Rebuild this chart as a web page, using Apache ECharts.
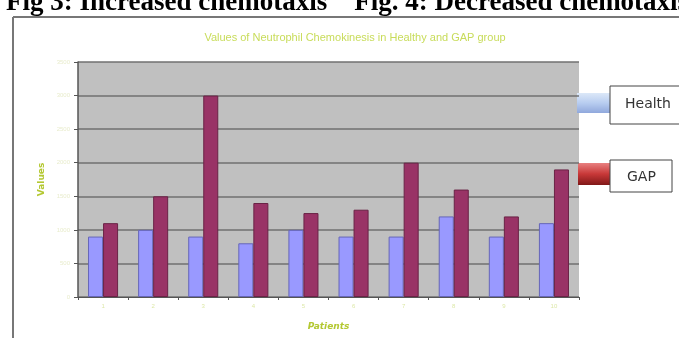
<!DOCTYPE html>
<html>
<head>
<meta charset="utf-8">
<script src="https://cdn.jsdelivr.net/npm/echarts@6/dist/echarts.min.js"></script>
<style>
  html, body { margin: 0; padding: 0; background: #fff; }
  #chart { width: 679px; height: 338px; }
</style>
</head>
<body>
<div id="chart"></div>
<script>
// patients 1..10
const patients = ['1', '2', '3', '4', '5', '6', '7', '8', '9', '10'];
const healthy = [900, 1000, 900, 800, 1000, 900, 900, 1200, 900, 1100];
const gap = [1100, 1500, 3000, 1400, 1250, 1300, 2000, 1600, 1200, 1900];
const yTicks = [0, 500, 1000, 1500, 2000, 2500, 3000, 3500];

const chart = echarts.init(document.getElementById('chart'));

const option = {
  animation: false,
  title: {
    text: 'Values of Neutrophil Chemokinesis in Healthy and GAP group',
    left: 350,
    top: 27,
    textAlign: 'center',
    textStyle: { color: '#c8dc5a', fontSize: 11, fontWeight: 'normal', fontFamily: 'Liberation Sans' }
  },
  grid: { left: 78, right: 100, top: 62, bottom: 41, backgroundColor: '#c0c0c0', show: true, borderWidth: 0 },
  xAxis: {
    type: 'category',
    data: patients,
    name: 'Patients',
    nameLocation: 'middle',
    nameGap: 25,
    nameTextStyle: { color: '#b4c832', fontSize: 9, fontWeight: 'bold', fontStyle: 'italic', fontFamily: 'DejaVu Sans' },
    axisLine: { lineStyle: { color: '#555', width: 1 } },
    axisTick: { show: true, length: 3, lineStyle: { color: '#555' } },
    axisLabel: { color: '#dde8a8', fontSize: 6, margin: 6 }
  },
  yAxis: {
    type: 'value',
    min: 0,
    max: 3500,
    interval: 500,
    name: 'Values',
    nameLocation: 'middle',
    nameGap: 30,
    nameRotate: 90,
    nameTextStyle: { color: '#b4c832', fontSize: 9, fontWeight: 'bold', fontFamily: 'DejaVu Sans' },
    axisLine: { show: true, lineStyle: { color: '#555', width: 1.5 } },
    axisTick: { show: true, length: 4, lineStyle: { color: '#555' } },
    axisLabel: {
      color: '#e8eccc', fontSize: 6, margin: 8,
      formatter: v => (yTicks.indexOf(v) >= 0 ? String(v) : '')
    },
    splitLine: { lineStyle: { color: '#707070', width: 1.5 } }
  },
  series: [
    {
      name: 'Health',
      type: 'bar',
      data: healthy,
      barGap: '0%',
      barCategoryGap: '40%',
      itemStyle: { color: '#9999ff', borderColor: '#6666b8', borderWidth: 1 }
    },
    {
      name: 'GAP',
      type: 'bar',
      data: gap,
      itemStyle: { color: '#993366', borderColor: '#6a2346', borderWidth: 1 }
    }
  ],
  graphic: [
    // page heading, cut by the top edge
    {
      type: 'text', left: 6, top: -10,
      style: { text: 'Fig 3: Increased chemotaxis    Fig. 4: Decreased chemotaxis', font: 'bold 27px "Liberation Serif"', fill: '#000' }
    },
    // outer frame
    { type: 'line', shape: { x1: 13, y1: 17, x2: 690, y2: 17 }, style: { stroke: '#777', lineWidth: 2 } },
    { type: 'line', shape: { x1: 13, y1: 17, x2: 13, y2: 340 }, style: { stroke: '#777', lineWidth: 2 } },
    // legend: Health
    {
      type: 'rect', shape: { x: 577, y: 93, width: 34, height: 20 },
      style: {
        fill: new echarts.graphic.LinearGradient(0, 0, 0, 1, [
          { offset: 0, color: '#dce8f8' }, { offset: 0.5, color: '#b8cdf0' }, { offset: 1, color: '#90a8dc' }
        ])
      }
    },
    { type: 'rect', shape: { x: 610, y: 86, width: 72, height: 38 }, style: { fill: '#fff', stroke: '#444', lineWidth: 1 } },
    { type: 'text', left: 625, top: 97, style: { text: 'Health', font: '14px "DejaVu Sans"', fill: '#333' } },
    // legend: GAP
    {
      type: 'rect', shape: { x: 578, y: 163, width: 33, height: 22 },
      style: {
        fill: new echarts.graphic.LinearGradient(0, 0, 0, 1, [
          { offset: 0, color: '#e88080' }, { offset: 0.5, color: '#c83838' }, { offset: 1, color: '#801818' }
        ])
      }
    },
    { type: 'rect', shape: { x: 610, y: 160, width: 62, height: 32 }, style: { fill: '#fff', stroke: '#444', lineWidth: 1 } },
    { type: 'text', left: 627, top: 170, style: { text: 'GAP', font: '14px "DejaVu Sans"', fill: '#333' } }
  ]
};

chart.setOption(option);
</script>
</body>
</html>
